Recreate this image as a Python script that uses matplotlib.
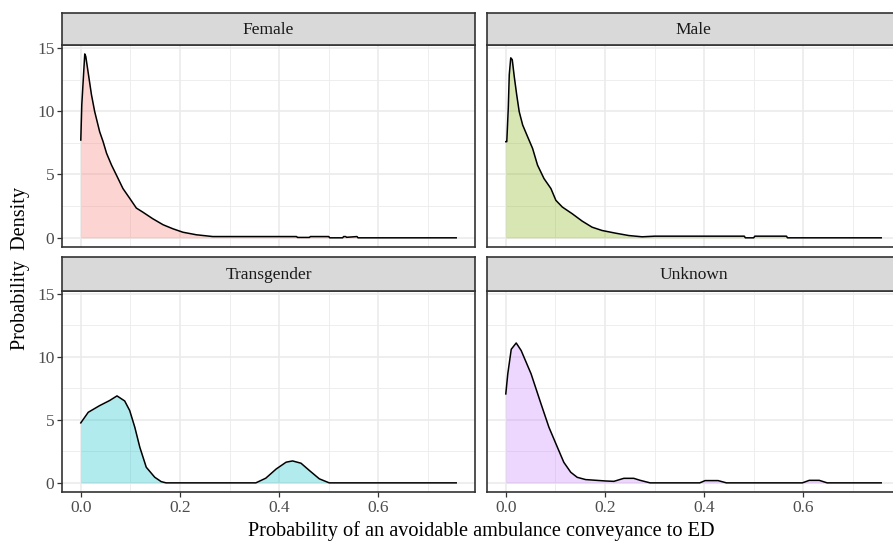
import matplotlib
matplotlib.use("Agg")
import matplotlib.pyplot as plt
from matplotlib.ticker import FixedLocator

plt.rcParams['font.family'] = ['Liberation Serif', 'DejaVu Serif']

# ---- data ----
panels = ["Female", "Male", "Transgender", "Unknown"]
fill_colors = ["#F8766D", "#7CAE00", "#00BFC4", "#C77CFF"]

female_x = [0.0, 0.002, 0.008, 0.010, 0.016, 0.0215, 0.028, 0.038, 0.045, 0.052,
            0.062, 0.072, 0.085, 0.099, 0.112, 0.125, 0.145, 0.166, 0.186, 0.206,
            0.233, 0.266, 0.30, 0.435, 0.437, 0.461, 0.463, 0.500, 0.502, 0.528,
            0.530, 0.534, 0.536, 0.557, 0.559, 0.757]
female_y = [7.72, 10.5, 14.52, 14.33, 12.75, 11.3, 9.97, 8.38, 7.59, 6.67,
            5.74, 4.94, 3.89, 3.10, 2.35, 2.03, 1.51, 1.03, 0.71, 0.44,
            0.24, 0.10, 0.1, 0.1, 0.03, 0.03, 0.1, 0.1, 0.0, 0.0,
            0.1, 0.1, 0.04, 0.1, 0.0, 0.0]

male_x = [0.0, 0.002, 0.005, 0.007, 0.010, 0.013, 0.017, 0.022, 0.027, 0.034,
          0.044, 0.054, 0.064, 0.077, 0.091, 0.101, 0.114, 0.134, 0.154, 0.174,
          0.194, 0.221, 0.248, 0.275, 0.30, 0.481, 0.483, 0.500, 0.502, 0.566,
          0.568, 0.757]
male_y = [7.59, 7.59, 10.24, 12.88, 14.21, 14.07, 12.75, 11.29, 9.97, 8.91,
          7.98, 7.06, 5.74, 4.68, 3.89, 2.96, 2.43, 1.90, 1.32, 0.84,
          0.58, 0.37, 0.18, 0.08, 0.13, 0.13, 0.0, 0.0, 0.13, 0.13,
          0.0, 0.0]

trans_x = [0.0, 0.015, 0.038, 0.058, 0.073, 0.0885, 0.0986, 0.109, 0.119, 0.132,
           0.149, 0.162, 0.172, 0.353, 0.373, 0.394, 0.414, 0.427, 0.444, 0.461,
           0.481, 0.501, 0.757]
trans_y = [4.76, 5.6, 6.13, 6.53, 6.9, 6.5, 5.74, 4.4, 2.83, 1.24,
           0.45, 0.1, 0.0, 0.0, 0.37, 1.1, 1.64, 1.74, 1.56, 0.98,
           0.32, 0.0, 0.0]

unk_x = [0.0, 0.004, 0.011, 0.021, 0.031, 0.051, 0.071, 0.087, 0.104, 0.117,
         0.131, 0.144, 0.161, 0.201, 0.218, 0.238, 0.258, 0.271, 0.291, 0.391,
         0.402, 0.428, 0.445, 0.598, 0.612, 0.632, 0.648, 0.757]
unk_y = [7.06, 8.65, 10.6, 11.1, 10.5, 8.65, 6.27, 4.41, 2.83, 1.63,
         0.84, 0.44, 0.26, 0.15, 0.12, 0.36, 0.36, 0.2, 0.0, 0.0,
         0.18, 0.18, 0.0, 0.0, 0.2, 0.2, 0.0, 0.0]

series_x = [female_x, male_x, trans_x, unk_x]
series_y = [female_y, male_y, trans_y, unk_y]

x_ticks = [0.0, 0.2, 0.4, 0.6]
x_tick_labels = ["0.0", "0.2", "0.4", "0.6"]
y_ticks = [0, 5, 10, 15]
y_tick_labels = ["0", "5", "10", "15"]
x_minor = [0.1, 0.3, 0.5, 0.7]
y_minor = [2.5, 7.5, 12.5]

x_label = "Probability of an avoidable ambulance conveyance to ED"
y_label = "Probability  Density"

# ---- layout ----
W, H = 893, 542
fig = plt.figure(figsize=(W / 100, H / 100), dpi=100)

def fx(px):
    return px / W

def fy(py):
    return 1 - py / H

lefts = [62, 487, 62, 487]
pw = 413
tops_panel = [45, 45, 291, 291]
bottoms_panel = [247, 247, 492, 492]
tops_strip = [13, 13, 257, 257]

grid_col = "#EBEBEB"
border_col = "#333333"
tick_col = "#4D4D4D"

xmin, xmax = -0.0379, 0.7949
ymin, ymax = -0.725, 15.225

for i, name in enumerate(panels):
    l = lefts[i]
    ax = fig.add_axes([fx(l), fy(bottoms_panel[i]), pw / W,
                       (bottoms_panel[i] - tops_panel[i]) / H])
    ax.set_xlim(xmin, xmax)
    ax.set_ylim(ymin, ymax)
    ax.set_facecolor("white")
    for v in x_minor:
        ax.axvline(v, color=grid_col, lw=0.6, zorder=0)
    for v in y_minor:
        ax.axhline(v, color=grid_col, lw=0.6, zorder=0)
    for v in x_ticks:
        ax.axvline(v, color=grid_col, lw=1.2, zorder=0)
    for v in y_ticks:
        ax.axhline(v, color=grid_col, lw=1.2, zorder=0)

    ax.fill_between(series_x[i], series_y[i], 0, color=fill_colors[i],
                    alpha=0.3, lw=0, zorder=1)
    ax.plot(series_x[i], series_y[i], color="black", lw=1.1, zorder=2,
            solid_joinstyle="round")

    for s in ax.spines.values():
        s.set_color(border_col)
        s.set_linewidth(1.2)

    ax.xaxis.set_major_locator(FixedLocator(x_ticks))
    ax.yaxis.set_major_locator(FixedLocator(y_ticks))
    ax.tick_params(axis="both", which="major", length=3.5, width=0.9,
                   color=border_col, labelcolor=tick_col, labelsize=12.5, pad=2)
    if i in (0, 2):
        ax.set_yticklabels(y_tick_labels)
    else:
        ax.tick_params(axis="y", length=0, labelleft=False)
    if i in (2, 3):
        ax.set_xticklabels(x_tick_labels)
    else:
        ax.tick_params(axis="x", length=0, labelbottom=False)

    # strip
    sax = fig.add_axes([fx(l), fy(tops_panel[i]), pw / W,
                        (tops_panel[i] - tops_strip[i]) / H])
    sax.set_facecolor("#D9D9D9")
    sax.set_xticks([])
    sax.set_yticks([])
    for s in sax.spines.values():
        s.set_color(border_col)
        s.set_linewidth(1.2)
    sax.text(0.5, 0.48, name, ha="center", va="center", fontsize=12.5,
             color="#1A1A1A", transform=sax.transAxes)

fig.text(fx(481), fy(531), x_label, ha="center", va="center", fontsize=14.6,
         color="black")
fig.text(fx(21), fy(269), y_label, ha="center", va="center", fontsize=14.6,
         rotation=90, color="black")

fig.savefig("out.png", dpi=100)
